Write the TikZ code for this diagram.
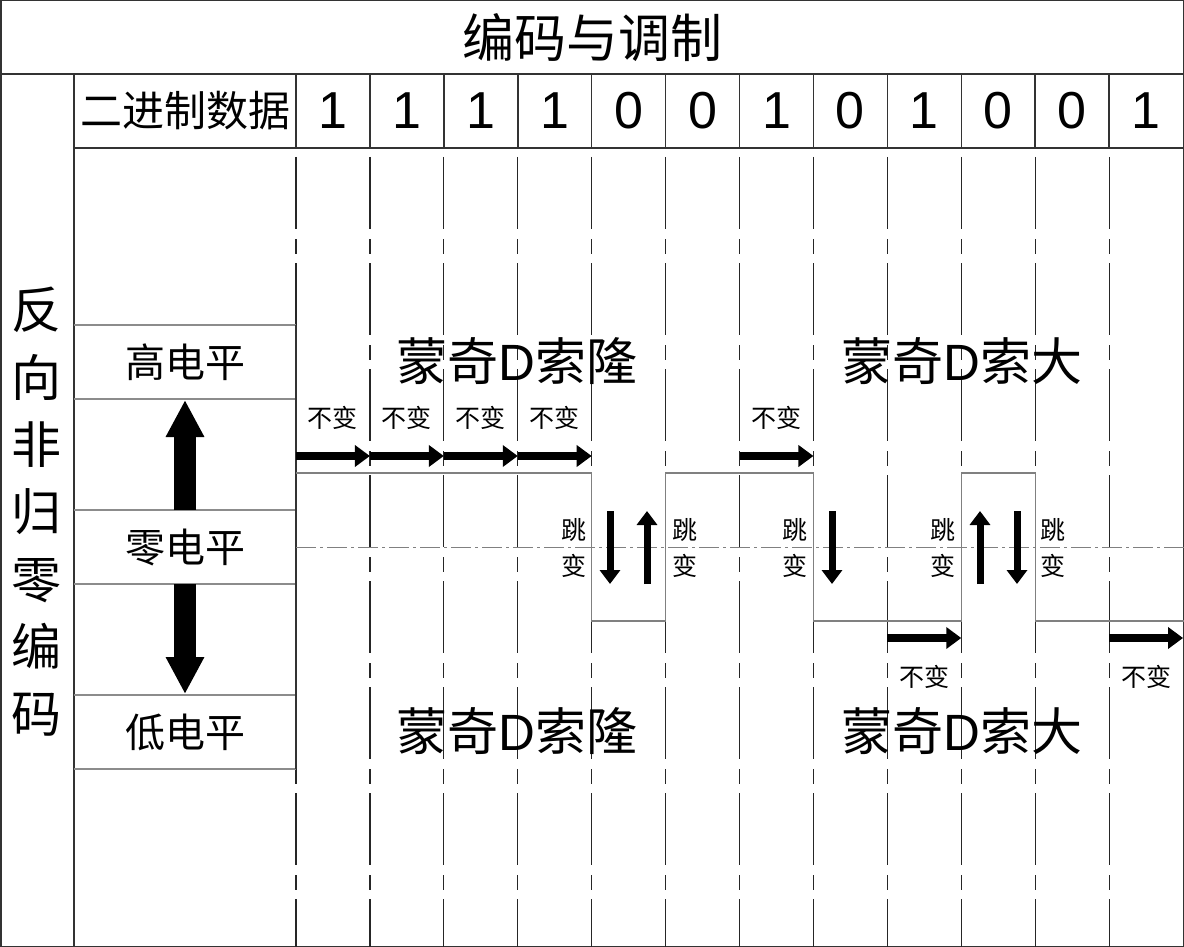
\documentclass[tikz,border=0pt]{standalone}
\usepackage{fontspec}
\setmainfont{Liberation Sans}
\newfontfamily\cjk{Noto Sans CJK SC}
\usetikzlibrary{arrows.meta}

\begin{document}
\begin{tikzpicture}[x=1pt,y=-1pt,
  frame/.style={draw=black!80,line width=1.5pt},
  cellline/.style={draw=black!45,line width=1.3pt},
  gridline/.style={draw=black!85,line width=1.2pt,
    dash pattern=on 72pt off 10pt on 15pt off 9pt,dash phase=97pt},
  sigline/.style={draw=black!50,line width=1.2pt},
  zeroline/.style={draw=black!50,line width=1pt,
    dash pattern=on 20pt off 4pt on 3pt off 4pt},
  keep/.style={line width=8pt,-{Triangle[length=15pt,width=21pt]}},
  jump/.style={line width=7pt,-{Triangle[length=14pt,width=20pt]}},
  level/.style={line width=22pt,-{Triangle[length=37pt,width=36pt]}},
  keeptext/.style={font=\cjk\fontsize{25}{25}\selectfont,inner sep=0pt},
  jumptext/.style={font=\cjk\fontsize{25}{36}\selectfont,align=center,inner sep=0pt},
  bigtext/.style={font=\fontsize{51}{51}\selectfont,inner sep=0pt},
  celltext/.style={font=\cjk\fontsize{40}{40}\selectfont,inner sep=0pt}]
\useasboundingbox (0,0) rectangle (1184,947);

% frame and header
\draw[frame] (0.75,0.75) rectangle (1183.25,946.25);
\draw[frame] (0,74) -- (1184,74);
\draw[frame] (74,148) -- (1184,148);
\draw[frame] (74,74) -- (74,947);
\foreach \k in {0,...,11}
  \draw[frame] ({296+73.92*\k},74) -- ({296+73.92*\k},148);

\node[font=\cjk\fontsize{52}{52}\selectfont] (title) at (592,38) {编码与调制};
\node[font=\cjk\fontsize{42}{42}\selectfont] (data) at (185,111) {二进制数据};
\foreach \b [count=\i] in {1,1,1,1,0,0,1,0,1,0,0,1}
  \node[font=\fontsize{52}{52}\selectfont] (bit\i) at ({296+73.92*(\i-0.5)},111) {\b};

\node[font=\cjk\fontsize{50}{67.3}\selectfont,align=center,inner sep=0pt] (code) at (37,512)
  {反\\向\\非\\归\\零\\编\\码};

% column grid
\foreach \k in {0,...,11}
  \draw[gridline] ({296+73.92*\k},148) -- ({296+73.92*\k},947);

% level cells
\foreach \y in {325,399,510,584,695,769}
  \draw[cellline] (74,\y) -- (296,\y);
\draw[frame,line width=1.2pt] (296,325) -- (296,769);
\node[celltext] (high) at (185,362) {高电平};
\node[celltext] (zero) at (185,547) {零电平};
\node[celltext] (low) at (185,732) {低电平};
\draw[level] (185,510) -- (185,400);
\draw[level] (185,584) -- (185,694);

% signal
\draw[zeroline] (296,547) -- (1184,547);
\draw[sigline] (296,473) -- (591.7,473) -- (591.7,621) -- (665.6,621) -- (665.6,473)
  -- (813.4,473) -- (813.4,621) -- (961.3,621) -- (961.3,473) -- (1035.2,473)
  -- (1035.2,621) -- (1184,621);

% unchanged bits
\foreach \i in {1,2,3,4,7} {
  \draw[keep] ({296+73.92*(\i-1)},456) -- ({296+73.92*\i},456);
  \node[keeptext] at ({296+73.92*(\i-0.5)},418) {不变};
}
\foreach \i in {9,12} {
  \draw[keep] ({296+73.92*(\i-1)},638) -- ({296+73.92*\i},638);
  \node[keeptext] at ({296+73.92*(\i-0.5)},677) {不变};
}

% transitions
\draw[jump] (610,511) -- (610,584);
\draw[jump] (647,584) -- (647,511);
\draw[jump] (832,511) -- (832,584);
\draw[jump] (980,584) -- (980,511);
\draw[jump] (1017,511) -- (1017,584);
\foreach \x in {574,685,795,943,1053}
  \node[jumptext] at (\x,548) {跳\\变};

\node[bigtext] (zoro1) at (517,361) {{\cjk 蒙奇}D{\cjk 索隆}};
\node[bigtext] (zoro2) at (962,361) {{\cjk 蒙奇}D{\cjk 索大}};
\node[bigtext] (zoro3) at (517,731) {{\cjk 蒙奇}D{\cjk 索隆}};
\node[bigtext] (zoro4) at (962,731) {{\cjk 蒙奇}D{\cjk 索大}};
\end{tikzpicture}
\end{document}
